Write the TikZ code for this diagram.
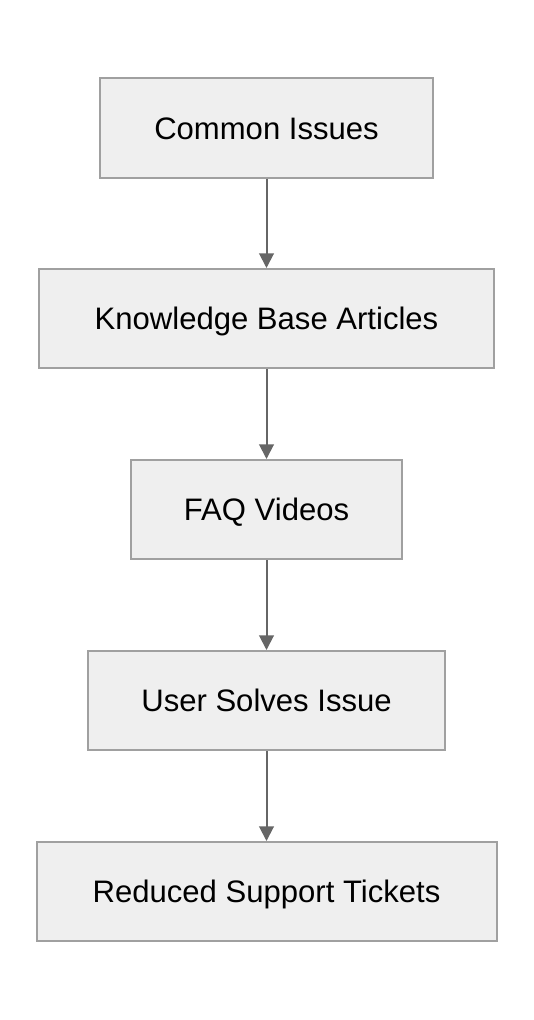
\documentclass[tikz,border=0pt]{standalone}
\usepackage{fontspec}
\setmainfont{Liberation Sans}
\usetikzlibrary{arrows.meta}
\definecolor{boxfill}{HTML}{EFEFEF}
\definecolor{boxline}{HTML}{A0A0A0}
\definecolor{arrowcol}{HTML}{666666}
\begin{document}
\begin{tikzpicture}[x=0.75pt,y=-0.75pt,
  flowbox/.style={draw=boxline,fill=boxfill,line width=1.5pt,minimum height=74.25pt,inner sep=0pt,text height=16.7pt,text depth=0pt,font=\fontsize{23.3}{26}\selectfont,text=black},
  flowarrow/.style={draw=arrowcol,line width=1.5pt,-{Triangle[length=11pt,width=11pt]}}]
\useasboundingbox (0,0) rectangle (534,1020);
\node[flowbox,minimum width=249.75pt] (a) at (266.5,128) {Common Issues};
\node[flowbox,minimum width=341.25pt] (b) at (266.5,318.5) {Knowledge Base Articles};
\node[flowbox,minimum width=203.25pt] (c) at (266.5,509.5) {FAQ Videos};
\node[flowbox,minimum width=267.75pt] (d) at (266.5,700.5) {User Solves Issue};
\node[flowbox,minimum width=345pt] (e) at (266.5,891.5) {Reduced Support Tickets};
\draw[flowarrow] (a) -- (b);
\draw[flowarrow] (b) -- (c);
\draw[flowarrow] (c) -- (d);
\draw[flowarrow] (d) -- (e);
\end{tikzpicture}
\end{document}
